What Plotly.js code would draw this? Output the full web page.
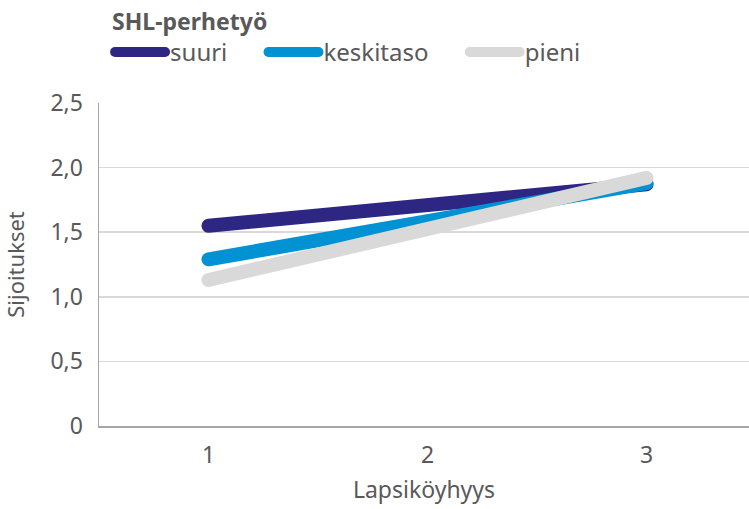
<!DOCTYPE html>
<html>
<head>
<meta charset="utf-8">
<script src="https://cdn.plot.ly/plotly-3.0.1.min.js"></script>
<style>
html,body{margin:0;padding:0;background:#fff;}
#chart{width:749px;height:509px;}
#chart .scatterlayer path.js-line, #chart .legend path.js-line{stroke-linecap:round;stroke-linejoin:round;}
</style>
</head>
<body>
<div id="chart"></div>
<script>
const xValues = [1, 2, 3];
const suuri = [1.55, 1.71, 1.87];
const keskitaso = [1.29, 1.59, 1.88];
const pieni = [1.13, 1.52, 1.92];
const seriesNames = ["suuri", "keskitaso", "pieni"];
const seriesColors = ["#2e2683", "#0092d2", "#d9d9d9"];
const yTickVals = [0, 0.5, 1, 1.5, 2, 2.5];
const yTickText = ["0", "0,5", "1,0", "1,5", "2,0", "2,5"];
const xTickText = ["1", "2", "3"];

const font = "Noto Sans, sans-serif";
const txt = "#595959";
const pad = "\u00a0".repeat(5);
const seriesData = [suuri, keskitaso, pieni];
const traces = seriesData.map((ys, i) => ({
  x: xValues, y: ys, name: seriesNames[i] + pad, type: "scatter", mode: "lines",
  line: {color: seriesColors[i], width: 14, shape: "linear"}
}));

const layout = {
  width: 749, height: 509,
  margin: {l: 99, r: 0, t: 103, b: 83},
  paper_bgcolor: "#fff", plot_bgcolor: "#fff",
  font: {family: font, color: txt, size: 23},
  showlegend: true,
  legend: {
    orientation: "h", x: 0.017, xanchor: "left", y: 1.32, yanchor: "top",
    itemwidth: 50, font: {size: 24, color: txt},
    title: {text: "<b>SHL-perhetyö</b>", side: "top", font: {size: 23, color: txt}},
    traceorder: "normal", itemclick: false
  },
  xaxis: {
    range: [0.5, 0.5 + 650 / 219], tickvals: xValues, ticktext: xTickText,
    showgrid: false, zeroline: false, showline: true, linecolor: "#a6a6a6", linewidth: 1.5,
    ticks: "", tickfont: {size: 23, color: txt}, ticklabelstandoff: 8,
    title: {text: "Lapsiköyhyys", font: {size: 23, color: txt}, standoff: 13}
  },
  yaxis: {
    range: [0, 2.5], tickvals: yTickVals, ticktext: yTickText,
    showgrid: true, gridcolor: "#d9d9d9", gridwidth: 1.5, zeroline: false,
    showline: true, linecolor: "#a6a6a6", linewidth: 1.5, ticks: "",
    tickfont: {size: 23, color: txt}, ticklabelstandoff: 10,
    title: {text: "Sijoitukset", font: {size: 22, color: txt}, standoff: 22}
  }
};
Plotly.newPlot("chart", traces, layout, {displayModeBar: false, staticPlot: true});
</script>
</body>
</html>
